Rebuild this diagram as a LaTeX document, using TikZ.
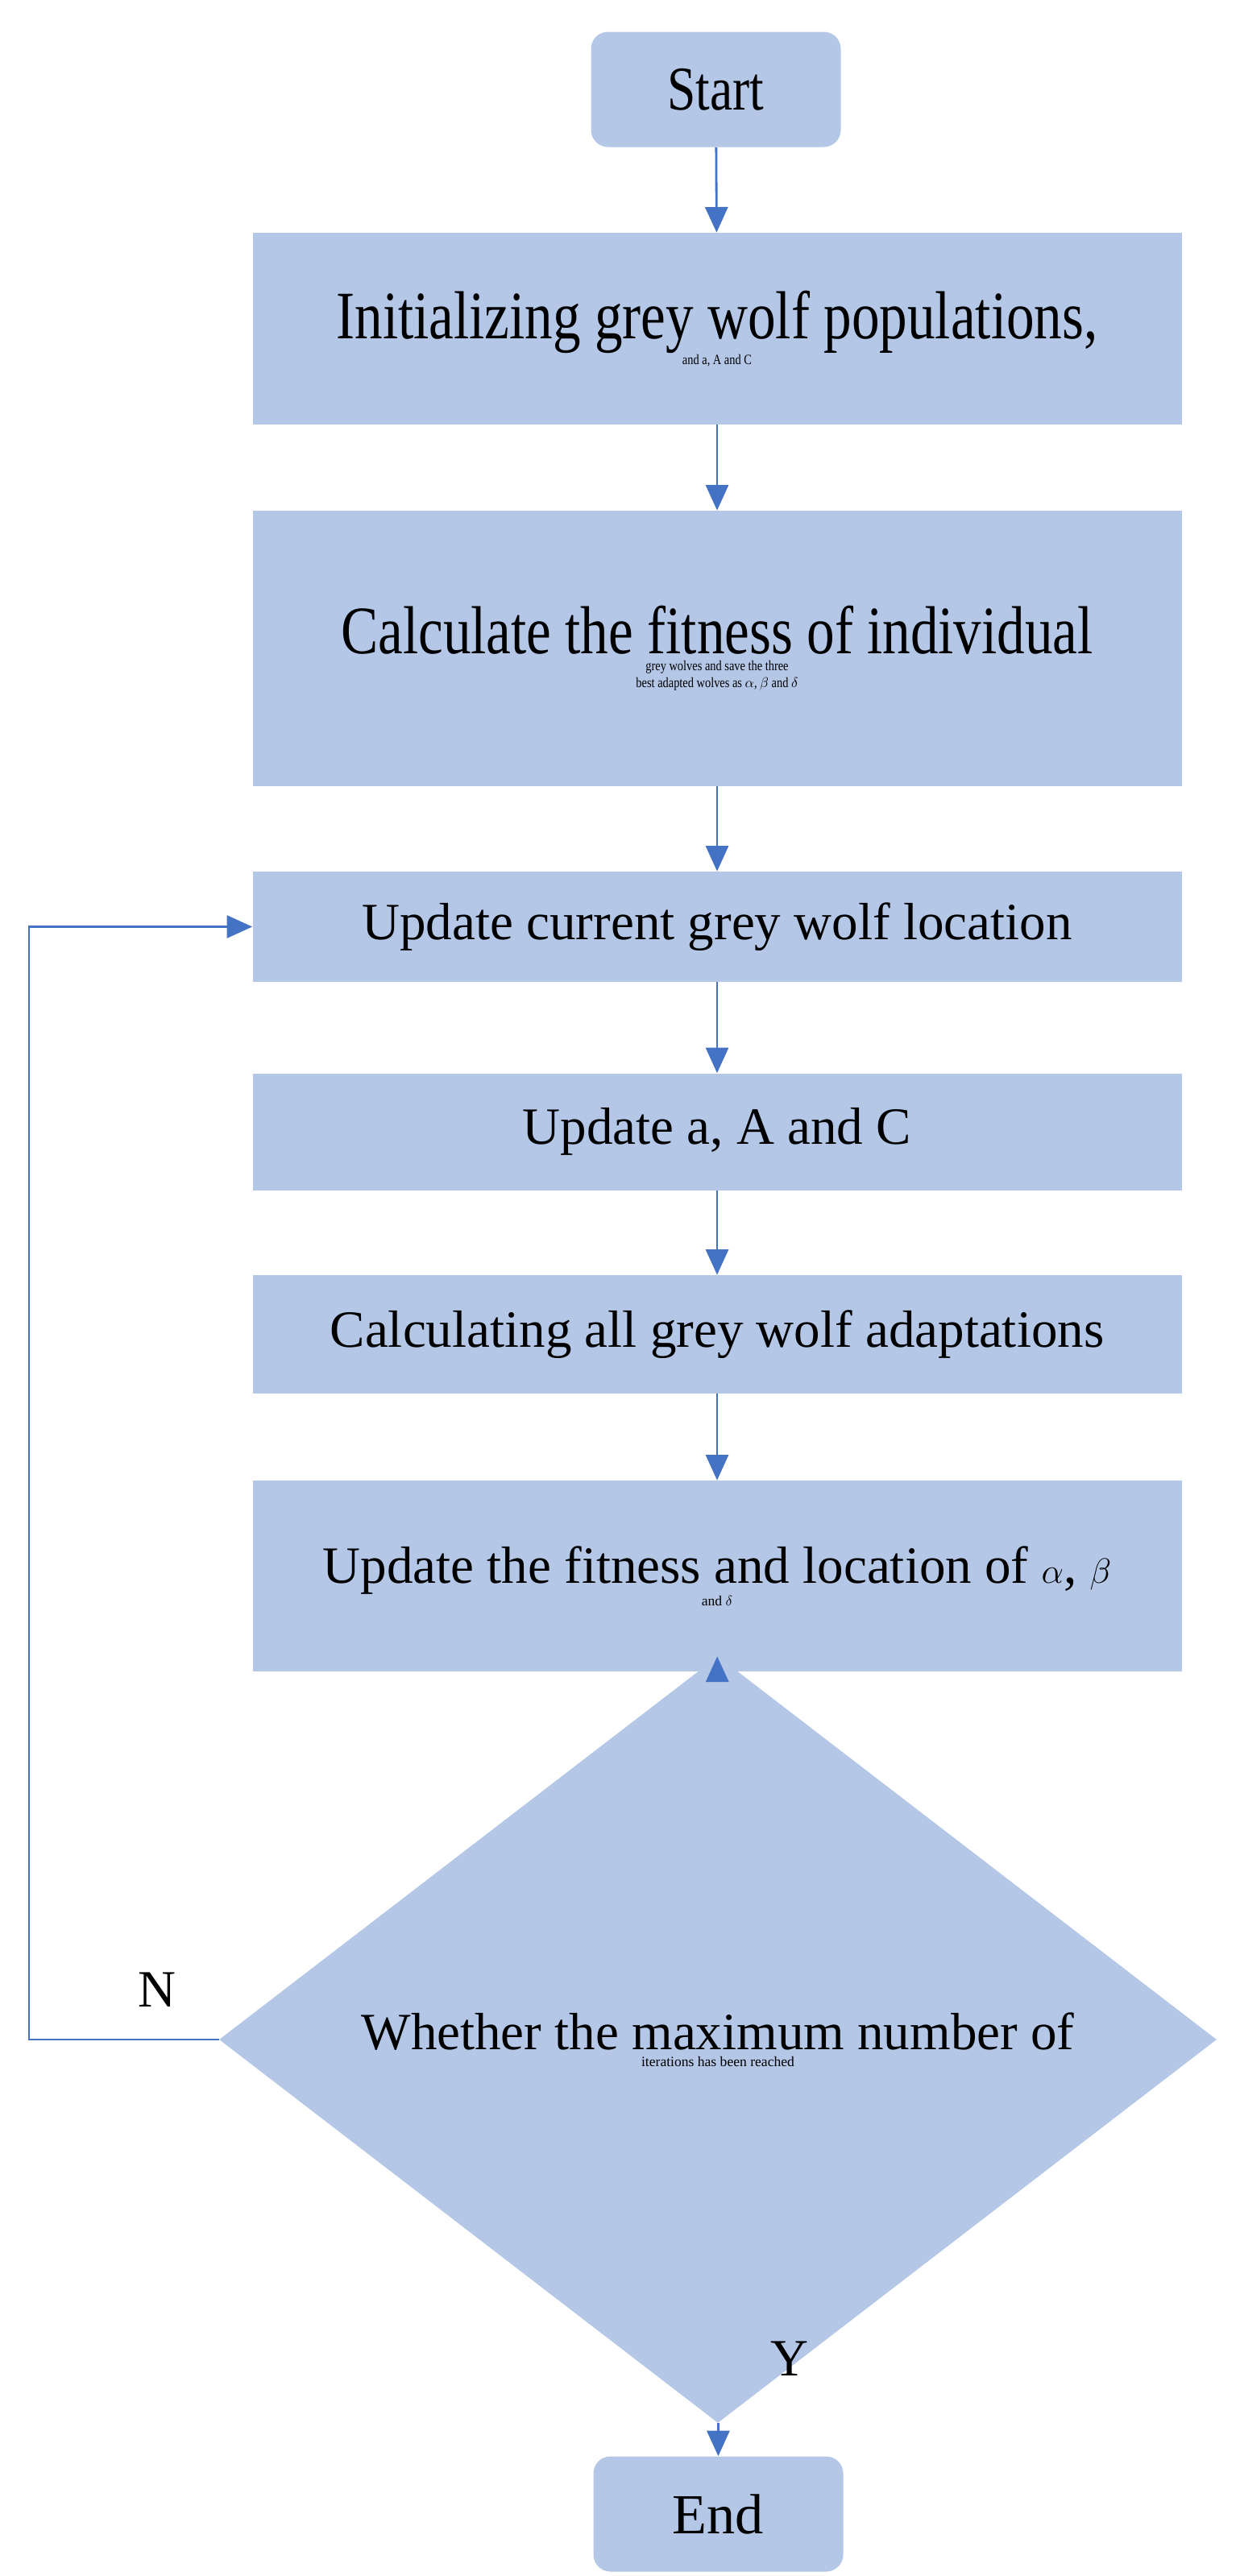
\documentclass[tikz,border=0pt]{standalone}
\usepackage{fontspec}
\setmainfont{Liberation Serif}
\newfontfamily\narrowfont[FakeStretch=0.82]{Liberation Serif}
\usetikzlibrary{shapes.geometric, arrows.meta}
\definecolor{boxblue}{RGB}{180,199,231}
\definecolor{lineblue}{RGB}{68,114,196}

\begin{document}
\begin{tikzpicture}[
    procbox/.style={fill=boxblue, inner sep=0pt, minimum width=23.06cm, align=center},
    term/.style={fill=boxblue, rounded corners=12pt, inner sep=0pt, minimum width=6.2cm, minimum height=2.86cm},
    arr/.style={draw=lineblue, line width=1.6pt, -{Triangle[length=18pt, width=16pt]}}]
  \useasboundingbox (0,0) rectangle (30.76,-63.96);

  % Start / End
  \node[term] (start) at (17.77, -2.22) {\fontsize{44}{54}\selectfont\narrowfont Start};
  \node[term] (stop) at (17.83, -62.42) {\fontsize{40}{50}\selectfont End};

  % Upper boxes
  \node[procbox, minimum height=4.76cm] (init) at (17.8, -8.16)
    {\fontsize{48}{50}\selectfont\narrowfont Initializing grey wolf populations,\\ \narrowfont and a, A and C};
  \node[procbox, minimum height=6.84cm] (fit) at (17.8, -16.1)
    {\fontsize{48}{50}\selectfont\narrowfont Calculate the fitness of individual\\ \narrowfont grey wolves and save the three\\ \narrowfont best adapted wolves as $\alpha$, $\beta$ and $\delta$};

  % Lower boxes
  \node[procbox, minimum height=2.74cm] (upcur) at (17.8, -23.01)
    {\fontsize{37}{50}\selectfont Update current grey wolf location};
  \node[procbox, minimum height=2.9cm] (upabc) at (17.8, -28.1)
    {\fontsize{37}{50}\selectfont Update a, A and C};
  \node[procbox, minimum height=2.94cm] (calcall) at (17.8, -33.13)
    {\fontsize{37}{50}\selectfont Calculating all grey wolf adaptations};
  \node[procbox, minimum height=4.74cm] (upfit) at (17.8, -39.13)
    {\fontsize{37}{50}\selectfont Update the fitness and location of $\alpha$, $\beta$\\ and $\delta$};

  % Decision
  \node[diamond, fill=boxblue, inner sep=0pt, minimum width=24.76cm, minimum height=13.94cm, align=center] (dec) at (17.82, -50.64)
    {\fontsize{37}{50}\selectfont Whether the maximum number of\\ iterations has been reached};

  % Arrows
  \draw[arr] (start) -- (init);
  \draw[arr] (init) -- (fit);
  \draw[arr] (fit) -- (upcur);
  \draw[arr] (upcur) -- (upabc);
  \draw[arr] (upabc) -- (calcall);
  \draw[arr] (calcall) -- (upfit);
  \draw[arr] (upfit) -- (dec);
  \draw[arr] (dec) -- (stop);
  \coordinate (loop) at (0.72, -50.64);
  \draw[arr] (dec.west) -- (loop) |- (upcur.west);

  % Labels
  \node (nlab) at (3.9, -49.4) {\fontsize{37}{50}\selectfont N};
  \node (ylab) at (19.6, -58.56) {\fontsize{37}{50}\selectfont Y};
\end{tikzpicture}
\end{document}
